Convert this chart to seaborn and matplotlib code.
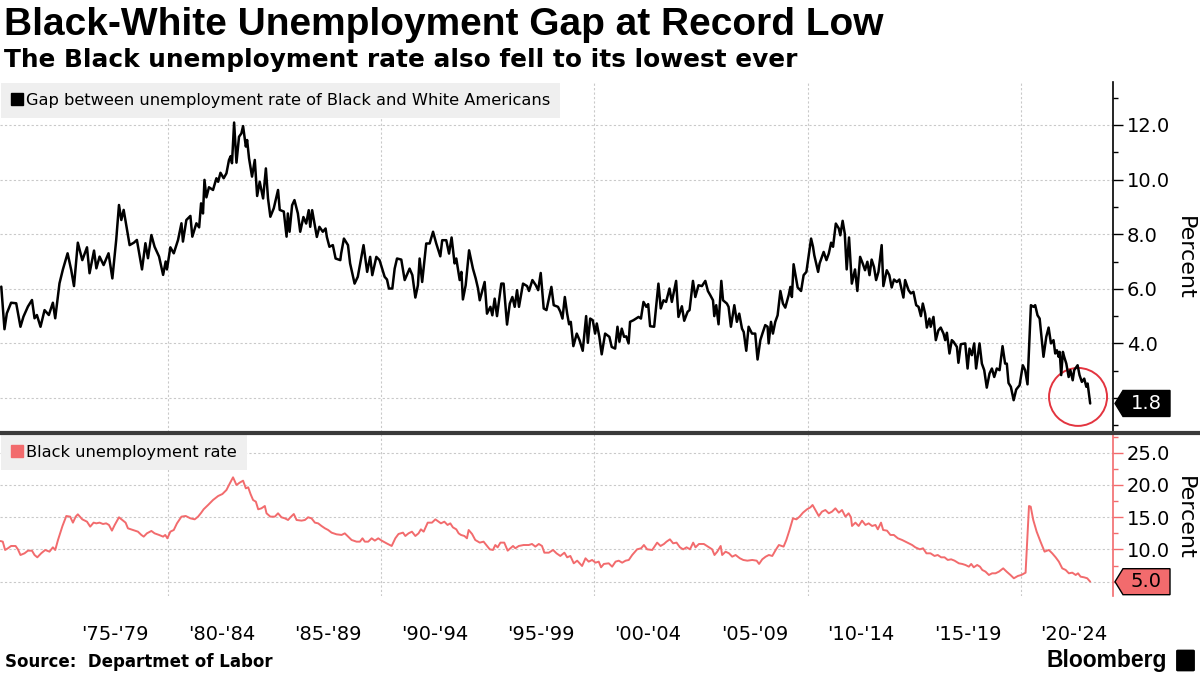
import matplotlib
matplotlib.use("Agg")
import matplotlib.pyplot as plt
import seaborn as sns
import pandas as pd
from matplotlib.lines import Line2D
from matplotlib.patches import Polygon, Ellipse, FancyBboxPatch

# gap between Black and White unemployment rate (percentage points)
gap_years = [
    1972.18, 1972.33, 1972.44, 1972.64, 1972.88, 1973.08, 1973.22, 1973.43, 1973.62, 1973.74,
    1973.85, 1974.02, 1974.21, 1974.41, 1974.60, 1974.71, 1974.91, 1975.07, 1975.29, 1975.46,
    1975.59, 1975.77, 1975.98, 1976.20, 1976.32, 1976.53, 1976.64, 1976.79, 1976.98, 1977.21,
    1977.39, 1977.57, 1977.70, 1977.81, 1977.92, 1978.04, 1978.20, 1978.40, 1978.54, 1978.78,
    1978.94, 1979.06, 1979.22, 1979.37, 1979.58, 1979.77, 1979.89, 1979.95, 1980.11, 1980.27,
    1980.47, 1980.63, 1980.70, 1980.86, 1981.05, 1981.14, 1981.33, 1981.46, 1981.55, 1981.64,
    1981.71, 1981.80, 1981.92, 1982.11, 1982.27, 1982.35, 1982.46, 1982.61, 1982.74, 1982.86,
    1982.94, 1983.00, 1983.10, 1983.21, 1983.33, 1983.44, 1983.52, 1983.65, 1983.71, 1983.80,
    1983.94, 1984.07, 1984.18, 1984.30, 1984.46, 1984.59, 1984.69, 1984.80, 1984.96, 1985.16,
    1985.24, 1985.43, 1985.56, 1985.62, 1985.70, 1985.82, 1985.93, 1986.09, 1986.20, 1986.35,
    1986.48, 1986.60, 1986.67, 1986.76, 1986.98, 1987.10, 1987.26, 1987.39, 1987.45, 1987.57,
    1987.73, 1987.86, 1988.08, 1988.12, 1988.25, 1988.44, 1988.54, 1988.75, 1988.90, 1989.17,
    1989.34, 1989.48, 1989.58, 1989.77, 1989.92, 1990.16, 1990.27, 1990.36, 1990.52, 1990.63,
    1990.74, 1990.94, 1991.10, 1991.33, 1991.46, 1991.60, 1991.72, 1991.80, 1991.92, 1992.11,
    1992.27, 1992.43, 1992.58, 1992.77, 1992.86, 1993.05, 1993.18, 1993.30, 1993.44, 1993.52,
    1993.68, 1993.76, 1993.83, 1993.96, 1994.12, 1994.30, 1994.43, 1994.54, 1994.62, 1994.77,
    1994.85, 1994.96, 1995.12, 1995.21, 1995.32, 1995.43, 1995.63, 1995.74, 1995.90, 1996.03,
    1996.15, 1996.26, 1996.37, 1996.46, 1996.65, 1996.84, 1996.93, 1997.09, 1997.25, 1997.36,
    1997.48, 1997.62, 1997.75, 1997.98, 1998.09, 1998.29, 1998.40, 1998.50, 1998.61, 1998.72,
    1998.81, 1998.89, 1999.01, 1999.17, 1999.30, 1999.45, 1999.61, 1999.69, 1999.80, 1999.92,
    2000.03, 2000.11, 2000.23, 2000.34, 2000.50, 2000.70, 2000.81, 2000.97, 2001.08, 2001.17,
    2001.28, 2001.39, 2001.49, 2001.60, 2001.67, 2001.83, 2002.07, 2002.18, 2002.30, 2002.43,
    2002.52, 2002.61, 2002.80, 2003.00, 2003.11, 2003.24, 2003.36, 2003.52, 2003.63, 2003.83,
    2003.94, 2004.10, 2004.21, 2004.37, 2004.46, 2004.62, 2004.73, 2004.88, 2005.04, 2005.20,
    2005.32, 2005.43, 2005.56, 2005.62, 2005.71, 2005.82, 2005.95, 2006.03, 2006.21, 2006.29,
    2006.40, 2006.56, 2006.68, 2006.79, 2006.92, 2007.00, 2007.12, 2007.23, 2007.39, 2007.54,
    2007.65, 2007.78, 2007.89, 2008.01, 2008.12, 2008.17, 2008.28, 2008.37, 2008.48, 2008.59,
    2008.72, 2008.84, 2008.95, 2009.11, 2009.19, 2009.26, 2009.34, 2009.47, 2009.53, 2009.69,
    2009.81, 2009.94, 2010.05, 2010.16, 2010.25, 2010.31, 2010.49, 2010.56, 2010.75, 2010.88,
    2010.99, 2011.10, 2011.19, 2011.32, 2011.46, 2011.53, 2011.64, 2011.74, 2011.83, 2011.94,
    2012.07, 2012.22, 2012.33, 2012.46, 2012.58, 2012.69, 2012.80, 2012.90, 2013.00, 2013.11,
    2013.21, 2013.32, 2013.47, 2013.55, 2013.71, 2013.83, 2013.94, 2014.05, 2014.18, 2014.30,
    2014.49, 2014.57, 2014.73, 2014.84, 2014.96, 2015.09, 2015.20, 2015.31, 2015.40, 2015.51,
    2015.59, 2015.71, 2015.77, 2015.90, 2016.01, 2016.13, 2016.24, 2016.37, 2016.45, 2016.53,
    2016.65, 2016.76, 2016.84, 2017.00, 2017.07, 2017.18, 2017.39, 2017.50, 2017.59, 2017.70,
    2017.81, 2017.90, 2018.06, 2018.17, 2018.28, 2018.40, 2018.53, 2018.64, 2018.75, 2018.87,
    2019.00, 2019.14, 2019.26, 2019.34, 2019.42, 2019.53, 2019.66, 2019.78, 2019.94, 2020.09,
    2020.20, 2020.31, 2020.47, 2020.59, 2020.67, 2020.78, 2020.88, 2021.06, 2021.19, 2021.30,
    2021.41, 2021.53, 2021.61, 2021.69, 2021.77, 2021.82, 2021.89, 2021.97, 2022.03, 2022.13,
    2022.24, 2022.32, 2022.43, 2022.50, 2022.66, 2022.75, 2022.86, 2022.97, 2023.07, 2023.13,
    2023.25,
]
gap_values = [
    6.08, 4.52, 5.10, 5.49, 5.47, 4.61, 4.98, 5.35, 5.59, 4.92,
    5.04, 4.61, 5.22, 5.04, 5.49, 4.92, 6.20, 6.71, 7.30, 6.69,
    6.10, 7.69, 7.05, 7.52, 6.57, 7.40, 6.75, 7.18, 6.87, 7.30,
    6.38, 7.79, 9.07, 8.52, 8.89, 8.34, 7.60, 7.69, 7.79, 6.71,
    7.67, 7.12, 7.97, 7.54, 7.18, 6.51, 7.00, 6.71, 7.52, 7.30,
    7.79, 8.40, 7.73, 8.52, 8.67, 7.91, 8.40, 8.25, 9.13, 8.76,
    9.99, 9.35, 9.72, 9.62, 10.05, 9.92, 10.25, 10.05, 10.23, 10.72,
    10.86, 10.60, 12.09, 10.62, 11.57, 11.69, 11.96, 11.21, 11.45, 10.78,
    10.11, 10.72, 9.40, 9.92, 9.31, 10.41, 9.31, 8.64, 8.95, 9.62,
    8.89, 8.83, 7.91, 8.76, 8.09, 9.06, 9.25, 8.76, 8.09, 8.63,
    8.39, 8.88, 8.27, 8.88, 7.90, 8.27, 8.09, 8.21, 7.90, 7.54,
    7.60, 7.11, 7.05, 7.29, 7.84, 7.60, 6.93, 6.19, 6.44, 7.60,
    6.62, 7.17, 6.50, 7.17, 7.05, 6.44, 6.34, 6.01, 6.01, 6.74,
    7.11, 7.07, 6.32, 6.74, 6.50, 5.68, 6.13, 7.11, 6.25, 7.66,
    7.66, 8.09, 7.66, 7.19, 7.78, 7.78, 7.29, 7.88, 6.93, 7.11,
    6.32, 6.62, 5.61, 6.13, 7.41, 6.74, 6.38, 6.01, 5.58, 6.01,
    6.25, 5.09, 5.34, 5.03, 5.64, 5.00, 6.19, 6.19, 4.69, 5.46,
    5.70, 5.34, 5.95, 5.34, 6.19, 6.10, 5.92, 6.32, 6.13, 5.95,
    6.58, 5.28, 5.22, 6.07, 5.40, 5.34, 5.16, 4.91, 5.70, 5.09,
    4.70, 4.79, 3.90, 4.36, 4.12, 3.73, 5.00, 4.02, 4.91, 4.85,
    4.36, 4.73, 4.24, 3.60, 4.36, 4.24, 3.87, 3.81, 4.61, 4.06,
    4.54, 4.24, 4.26, 4.00, 4.79, 4.85, 4.97, 4.91, 5.52, 5.34,
    5.44, 4.63, 4.61, 6.19, 5.28, 5.58, 5.52, 6.01, 5.52, 6.29,
    4.97, 5.36, 4.83, 5.16, 5.22, 6.29, 5.70, 6.13, 6.10, 6.29,
    5.92, 5.77, 5.58, 5.00, 5.40, 4.70, 6.29, 5.58, 5.46, 5.34,
    4.61, 5.40, 4.79, 5.09, 4.54, 4.42, 3.73, 4.61, 4.36, 4.36,
    3.41, 4.12, 4.39, 4.67, 4.61, 4.00, 4.79, 4.36, 4.79, 5.03,
    5.92, 5.46, 5.31, 5.77, 6.07, 5.70, 6.90, 6.32, 6.05, 5.92,
    6.50, 6.62, 7.23, 7.84, 7.54, 7.23, 6.62, 6.93, 7.35, 7.05,
    7.29, 7.69, 7.54, 8.39, 8.21, 7.96, 8.49, 8.02, 6.71, 7.88,
    6.19, 6.71, 5.92, 7.17, 6.93, 6.68, 6.99, 6.50, 7.07, 6.80,
    6.32, 6.62, 7.60, 6.10, 6.68, 6.50, 6.05, 6.34, 6.25, 6.34,
    5.68, 6.32, 5.95, 5.83, 5.89, 5.40, 5.34, 5.00, 5.46, 5.09,
    4.58, 4.91, 4.61, 4.97, 4.12, 4.48, 4.58, 4.36, 4.12, 4.39,
    3.63, 4.12, 4.06, 3.87, 3.29, 3.97, 4.00, 3.08, 3.81, 3.57,
    4.00, 3.08, 4.00, 3.26, 3.02, 2.38, 2.90, 3.08, 2.77, 3.08,
    3.02, 3.90, 3.26, 3.26, 2.55, 2.41, 1.92, 2.31, 2.47, 3.20,
    3.02, 2.50, 5.40, 5.34, 5.40, 5.03, 4.91, 3.51, 4.24, 4.58,
    4.00, 4.12, 3.63, 3.75, 3.51, 3.69, 2.84, 3.69, 3.51, 3.26,
    2.77, 3.02, 2.65, 3.02, 3.20, 2.84, 2.59, 2.71, 2.41, 2.53,
    1.80,
]

# Black unemployment rate (%)
black_years = [
    1972.14, 1972.25, 1972.36, 1972.49, 1972.64, 1972.85, 1972.96, 1973.08, 1973.27, 1973.43,
    1973.62, 1973.74, 1973.87, 1974.05, 1974.24, 1974.44, 1974.60, 1974.71, 1974.84, 1975.05,
    1975.23, 1975.41, 1975.54, 1975.67, 1975.77, 1975.98, 1976.20, 1976.35, 1976.51, 1976.64,
    1976.79, 1976.95, 1977.10, 1977.23, 1977.37, 1977.50, 1977.70, 1977.86, 1978.01, 1978.12,
    1978.36, 1978.59, 1978.75, 1978.86, 1979.01, 1979.22, 1979.37, 1979.58, 1979.77, 1979.87,
    1979.97, 1980.11, 1980.27, 1980.42, 1980.63, 1980.83, 1981.05, 1981.25, 1981.41, 1981.56,
    1981.67, 1981.88, 1982.11, 1982.35, 1982.55, 1982.74, 1982.90, 1983.05, 1983.21, 1983.36,
    1983.52, 1983.65, 1983.76, 1983.87, 1983.99, 1984.12, 1984.23, 1984.38, 1984.54, 1984.62,
    1984.80, 1985.01, 1985.16, 1985.32, 1985.48, 1985.63, 1985.74, 1985.90, 1986.03, 1986.26,
    1986.42, 1986.57, 1986.73, 1986.89, 1987.04, 1987.20, 1987.36, 1987.51, 1987.67, 1987.90,
    1988.14, 1988.29, 1988.45, 1988.61, 1988.84, 1989.00, 1989.12, 1989.23, 1989.39, 1989.55,
    1989.70, 1989.86, 1990.02, 1990.25, 1990.49, 1990.66, 1990.81, 1991.02, 1991.13, 1991.28,
    1991.44, 1991.60, 1991.75, 1991.86, 1991.99, 1992.18, 1992.38, 1992.54, 1992.69, 1992.80,
    1992.96, 1993.11, 1993.24, 1993.36, 1993.52, 1993.63, 1993.74, 1993.90, 1994.02, 1994.10,
    1994.26, 1994.41, 1994.62, 1994.80, 1994.96, 1995.09, 1995.24, 1995.35, 1995.46, 1995.59,
    1995.77, 1995.93, 1996.06, 1996.18, 1996.29, 1996.45, 1996.68, 1996.92, 1997.07, 1997.23,
    1997.39, 1997.54, 1997.65, 1997.86, 1998.06, 1998.22, 1998.40, 1998.59, 1998.72, 1998.87,
    1999.03, 1999.19, 1999.42, 1999.58, 1999.73, 1999.89, 2000.05, 2000.20, 2000.31, 2000.44,
    2000.67, 2000.83, 2000.99, 2001.14, 2001.30, 2001.46, 2001.61, 2001.77, 2002.00, 2002.19,
    2002.32, 2002.47, 2002.71, 2002.94, 2003.10, 2003.26, 2003.38, 2003.54, 2003.69, 2003.85,
    2004.01, 2004.16, 2004.32, 2004.48, 2004.63, 2004.74, 2004.90, 2005.13, 2005.32, 2005.52,
    2005.63, 2005.76, 2005.92, 2005.99, 2006.15, 2006.31, 2006.46, 2006.62, 2006.82, 2006.98,
    2007.17, 2007.40, 2007.61, 2007.72, 2007.87, 2008.03, 2008.18, 2008.34, 2008.50, 2008.65,
    2008.87, 2009.00, 2009.15, 2009.31, 2009.47, 2009.62, 2009.78, 2009.97, 2010.13, 2010.23,
    2010.36, 2010.52, 2010.67, 2010.83, 2010.99, 2011.14, 2011.30, 2011.46, 2011.61, 2011.77,
    2011.92, 2012.03, 2012.08, 2012.24, 2012.39, 2012.55, 2012.71, 2012.86, 2013.02, 2013.18,
    2013.29, 2013.44, 2013.54, 2013.72, 2013.88, 2014.04, 2014.23, 2014.43, 2014.59, 2014.74,
    2014.90, 2015.05, 2015.26, 2015.41, 2015.57, 2015.76, 2015.95, 2016.10, 2016.26, 2016.42,
    2016.57, 2016.73, 2016.89, 2017.09, 2017.25, 2017.40, 2017.56, 2017.67, 2017.79, 2017.95,
    2018.08, 2018.19, 2018.34, 2018.50, 2018.65, 2018.81, 2018.97, 2019.17, 2019.33, 2019.51,
    2019.67, 2019.86, 2020.02, 2020.22, 2020.38, 2020.46, 2020.58, 2020.74, 2020.92, 2021.11,
    2021.31, 2021.47, 2021.63, 2021.78, 2021.94, 2022.10, 2022.25, 2022.41, 2022.57, 2022.68,
    2022.80, 2022.96, 2023.11, 2023.25,
]
black_values = [
    11.31, 11.21, 9.92, 10.18, 10.54, 10.54, 10.02, 9.14, 9.40, 9.81,
    9.81, 9.14, 8.78, 9.40, 9.92, 9.66, 10.33, 9.92, 11.47, 13.64,
    15.19, 15.09, 14.16, 15.09, 15.45, 14.67, 14.31, 13.54, 14.16, 14.05,
    14.16, 13.95, 14.05, 13.80, 12.92, 13.80, 14.99, 14.57, 14.16, 13.28,
    13.02, 12.76, 12.25, 11.99, 12.50, 12.87, 12.50, 12.25, 11.99, 12.25,
    11.73, 12.76, 13.02, 14.05, 15.09, 15.19, 14.83, 14.67, 15.09, 15.71,
    16.23, 16.90, 17.67, 18.29, 18.60, 19.22, 20.26, 21.19, 20.00, 20.36,
    20.67, 19.48, 19.64, 18.60, 17.67, 17.41, 16.23, 16.38, 16.74, 15.61,
    15.09, 15.09, 15.61, 14.99, 14.83, 14.57, 14.99, 15.50, 14.57, 14.47,
    14.57, 14.99, 14.83, 14.16, 14.05, 13.64, 13.28, 13.02, 12.61, 12.35,
    12.25, 12.50, 11.99, 11.47, 11.21, 11.21, 11.73, 11.21, 11.21, 11.73,
    11.37, 11.73, 11.37, 10.95, 10.54, 11.73, 12.40, 12.61, 12.09, 12.50,
    12.76, 12.09, 12.50, 13.12, 12.76, 14.16, 14.16, 14.67, 14.31, 14.05,
    14.31, 13.80, 14.05, 13.43, 13.12, 12.50, 12.25, 12.09, 11.73, 13.02,
    12.40, 11.47, 11.06, 11.21, 10.54, 10.02, 9.92, 10.69, 10.33, 11.06,
    11.06, 9.81, 10.18, 10.54, 10.18, 10.54, 10.69, 10.69, 10.85, 10.44,
    10.85, 10.54, 9.50, 9.50, 9.92, 9.40, 8.99, 9.50, 8.78, 8.99,
    7.85, 8.26, 7.44, 8.63, 8.11, 8.37, 7.95, 8.11, 7.23, 7.75,
    7.85, 7.33, 8.11, 8.26, 7.95, 8.26, 8.37, 9.14, 10.02, 10.18,
    10.69, 10.02, 9.92, 11.06, 10.54, 10.85, 11.21, 11.57, 10.95, 11.06,
    10.33, 10.02, 10.33, 10.02, 11.06, 10.33, 10.85, 10.85, 10.44, 10.02,
    9.14, 9.66, 10.54, 9.14, 9.66, 9.40, 8.88, 9.14, 8.63, 8.37,
    8.26, 8.37, 8.26, 7.75, 8.47, 8.88, 9.14, 8.99, 9.92, 10.69,
    10.44, 11.47, 13.02, 14.83, 14.67, 15.09, 15.71, 16.23, 16.54, 16.90,
    16.12, 15.19, 15.86, 16.12, 15.61, 15.86, 16.38, 15.71, 16.12, 15.09,
    15.61, 14.99, 13.64, 14.16, 13.64, 14.47, 13.80, 14.05, 13.64, 13.80,
    13.12, 14.16, 13.02, 12.92, 12.25, 12.25, 11.73, 11.47, 11.21, 10.95,
    10.69, 10.33, 10.02, 10.18, 9.40, 9.40, 8.99, 9.14, 8.78, 8.78,
    8.37, 8.47, 8.26, 7.85, 7.75, 7.59, 7.33, 7.75, 7.23, 7.59,
    7.33, 6.82, 6.56, 6.04, 6.30, 6.30, 6.56, 7.07, 6.56, 6.04,
    5.53, 5.89, 6.04, 6.40, 16.74, 16.64, 14.57, 12.76, 11.21, 9.66,
    9.92, 9.40, 8.78, 8.11, 7.07, 6.82, 6.30, 6.40, 6.04, 6.30,
    5.78, 5.68, 5.53, 5.00,
]

x_tick_years = [1977.5, 1982.5, 1987.5, 1992.5, 1997.5, 2002.5, 2007.5, 2012.5, 2017.5, 2022.5]
x_tick_labels = ["'75-'79", "'80-'84", "'85-'89", "'90-'94", "'95-'99",
                 "'00-'04", "'05-'09", "'10-'14", "'15-'19", "'20-'24"]
gap_ticks = [2, 4, 6, 8, 10, 12]
gap_tick_labels = ["", "4.0", "6.0", "8.0", "10.0", "12.0"]
black_ticks = [5, 10, 15, 20, 25]
black_tick_labels = ["", "10.0", "15.0", "20.0", "25.0"]

gap_df = pd.DataFrame({"year": gap_years, "gap": gap_values})
black_df = pd.DataFrame({"year": black_years, "rate": black_values})

RED = "#f26b6d"
GRID = "#c9c9c9"

sns.set_style("white")
plt.rcParams["font.family"] = ["DejaVu Sans"]
plt.rcParams["text.color"] = "black"
plt.rcParams["xtick.color"] = "black"
plt.rcParams["ytick.color"] = "black"

W, H = 1200, 675
fig = plt.figure(figsize=(12, 6.75), dpi=100)
ax_top = fig.add_axes([0, 1 - 432 / H, 1113 / W, (432 - 82) / H])
ax_bot = fig.add_axes([0, 1 - 596 / H, 1113 / W, (596 - 434) / H])

sns.lineplot(data=gap_df, x="year", y="gap", ax=ax_top, color="black",
             linewidth=1.8, estimator=None, legend=False)
sns.lineplot(data=black_df, x="year", y="rate", ax=ax_bot, color=RED,
             linewidth=1.4, estimator=None, legend=False)

xlim = (1972.12, 2024.32)
for ax in (ax_top, ax_bot):
    ax.set_xlim(*xlim)
    ax.set_xlabel("")
    ax.set_ylabel("")
    ax.set_xticks([1980, 1990, 2000, 2010, 2020])
    ax.set_xticks(x_tick_years, minor=True)
    ax.yaxis.tick_right()
    ax.grid(True, which="major", linestyle=(0, (2, 2)), color=GRID, linewidth=0.8)
    for s in ("left", "top", "bottom"):
        ax.spines[s].set_visible(False)
    ax.set_facecolor("white")

ax_top.set_ylim(0.755, 13.575)
ax_top.set_yticks(gap_ticks)
ax_top.set_yticklabels(gap_tick_labels)
ax_top.set_yticks([1, 3, 5, 7, 9, 11, 13], minor=True)
ax_top.tick_params(axis="y", which="major", length=7, width=1, direction="out",
                   labelsize=14, pad=3, colors="black")
ax_top.tick_params(axis="y", which="minor", length=3.5, width=1, direction="out", colors="black")
ax_top.tick_params(axis="x", which="both", length=0, labelbottom=False)
ax_top.spines["right"].set_color("black")
ax_top.spines["right"].set_linewidth(1.2)

ax_bot.set_ylim(2.78, 27.91)
ax_bot.set_yticks(black_ticks)
ax_bot.set_yticklabels(black_tick_labels)
ax_bot.set_yticks([7.5, 12.5, 17.5, 22.5, 27.5], minor=True)
ax_bot.tick_params(axis="y", which="major", length=7, width=1, direction="out",
                   labelsize=14, pad=3, colors=RED, labelcolor="black")
ax_bot.tick_params(axis="y", which="minor", length=3.5, width=1, direction="out", colors=RED)
ax_bot.tick_params(axis="x", which="major", length=0, labelbottom=False)
ax_bot.tick_params(axis="x", which="minor", length=0, labelsize=14, pad=21, labelcolor="black")
ax_bot.set_xticklabels(x_tick_labels, minor=True)
ax_bot.spines["right"].set_color(RED)
ax_bot.spines["right"].set_linewidth(1.2)

# legends in grey boxes
def boxed_legend(ax, color, label, size):
    h = Line2D([], [], marker="s", color=color, linestyle="None", markersize=8)
    leg = ax.legend([h], [label], loc="upper left", bbox_to_anchor=(0, 1),
                    borderaxespad=0.08, frameon=True, facecolor="#efefef",
                    edgecolor="#efefef", framealpha=1, fancybox=False,
                    handlelength=0.7, handletextpad=0.25, borderpad=0.6,
                    fontsize=size)
    leg.get_frame().set_linewidth(0)
    return leg

boxed_legend(ax_top, "black", "Gap between unemployment rate of Black and White Americans", 11.7)
boxed_legend(ax_bot, RED, "Black unemployment rate", 11.7)

# value tags at the right end of each line
def value_tag(ax, value, text, face, txt_color, edge):
    x_disp, y_disp = ax.transData.transform((xlim[1], value))
    pts = [(x_disp + 2, y_disp), (x_disp + 10, y_disp + 13), (x_disp + 57, y_disp + 13),
           (x_disp + 57, y_disp - 13), (x_disp + 10, y_disp - 13)]
    pts = [(px / W, py / H) for px, py in pts]
    fig.add_artist(Polygon(pts, closed=True, transform=fig.transFigure,
                           facecolor=face, edgecolor=edge, linewidth=1))
    fig.text((x_disp + 33) / W, y_disp / H, text, color=txt_color, fontsize=14,
             ha="center", va="center")

value_tag(ax_top, gap_values[-1], "1.8", "black", "white", "black")
value_tag(ax_bot, black_values[-1], "5.0", RED, "black", "black")

# red circle highlighting the latest reading
ax_top.add_patch(Ellipse((2022.68, 2.04), 58 / 21.32, 58 / 27.33, fill=False,
                         edgecolor="#e3343f", linewidth=1.4, clip_on=False))

# divider between the panels
fig.add_artist(Line2D([0, 1], [1 - 432.5 / H] * 2, transform=fig.transFigure,
                      color="#3a3a3a", linewidth=3))

fig.text(1185 / W, 1 - 258 / H, "Percent", rotation=270, fontsize=16,
         ha="center", va="center")
fig.text(1185 / W, 1 - 518 / H, "Percent", rotation=270, fontsize=16,
         ha="center", va="center")

fig.text(4 / W, 1 - 25 / H, "Black-White Unemployment Gap at Record Low",
         fontsize=28, fontweight="bold", family="Liberation Sans", va="center")
fig.text(4 / W, 1 - 60 / H, "The Black unemployment rate also fell to its lowest ever",
         fontsize=17.8, fontweight="bold", family="DejaVu Sans", va="center")
fig.text(5 / W, 1 - 662 / H, "Source:  Departmet of Labor", fontsize=12,
         fontweight="bold", family="DejaVu Sans", va="center")
fig.text(1167 / W, 1 - 660 / H, "Bloomberg", fontsize=16.5, fontweight="bold",
         family="Liberation Sans", va="center", ha="right")
# small terminal icon next to the logo
fig.add_artist(FancyBboxPatch((1178 / W, 1 - 670 / H), 15 / W, 19 / H,
                              boxstyle="round,pad=0.001", transform=fig.transFigure,
                              facecolor="black", edgecolor="black"))

fig.savefig("out.png", dpi=100, facecolor="white")
